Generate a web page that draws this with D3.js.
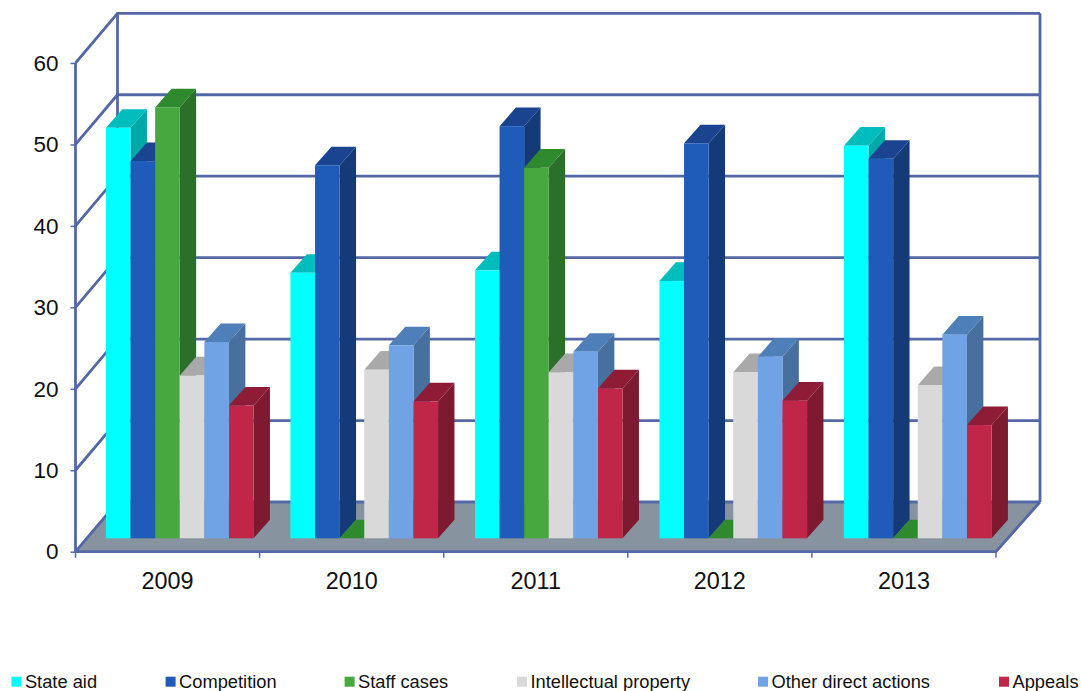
<!DOCTYPE html>
<html><head><meta charset="utf-8">
<script src="https://cdn.jsdelivr.net/npm/d3@7"></script>
<style>html,body{margin:0;background:#fff}svg{display:block}text{font-family:"Liberation Sans",Arial,sans-serif;fill:#111}</style>
</head><body><svg id="c" width="1081" height="691"></svg>
<script>
const years = ["2009","2010","2011","2012","2013"];
const seriesNames = ["State aid","Competition","Staff cases","Intellectual property","Other direct actions","Appeals"];
const stateAid = [50.4,32.6,32.9,31.6,48.2];
const competition = [46.3,45.8,50.6,48.5,46.6];
const staffCases = [52.9,0,45.5,0,0];
const intellectualProperty = [20,20.7,20.4,20.4,18.8];
const otherDirectActions = [24.1,23.7,22.9,22.3,25];
const appeals = [16.3,16.8,18.4,16.9,13.9];
const seriesValues = [stateAid,competition,staffCases,intellectualProperty,otherDirectActions,appeals];
const frontColors = ["#00ffff","#1f5bb8","#46a83f","#d9d9d9","#70a3e6","#bf2648"];
const topColors = ["#00bdbd","#1a4490","#2f8a2e","#a9a9a9","#4f7fb8","#8e1c36"];
const sideColors = ["#00a8a8","#143a78","#2b6f2a","#a0a0a0","#47709f","#7d1a30"];
const yTicks = [0,10,20,30,40,50,60];
const lineColor = "#5468a6", floorColor = "#87949f";

const svg = d3.select("#c");
const x0 = 75.5, x1 = 996, yB = 551.7, yT = 63;
const dxL = 42, dxR = 44, dy = -49.7;
const y = d3.scaleLinear().domain([0,60]).range([yB,yT]);
const xs = d3.scaleBand().domain(years).range([x0,x1]);
const line = d3.line();

// floor
svg.append("path").attr("d",line([[x0,yB],[x1,yB],[x1+dxR,yB+dy],[x0+dxL,yB+dy]])+"Z").attr("fill",floorColor);
// walls
const wall = svg.append("g").attr("fill","none").attr("stroke",lineColor).attr("stroke-width",2.8);
yTicks.forEach(t=>{
  wall.append("path").attr("d",line([[x0,y(t)],[x0+dxL,y(t)+dy],[x1+dxR,y(t)+dy]]));
});
wall.append("path").attr("d",line([[x0,yB],[x0,yT]]));
wall.append("path").attr("d",line([[x0+dxL,yB+dy],[x0+dxL,yT+dy]]));
wall.append("path").attr("d",line([[x1+dxR,yB+dy],[x1+dxR,yT+dy]]));
wall.append("path").attr("d",line([[x0,yB],[x1,yB],[x1+dxR,yB+dy]]));

// y axis & x axis via d3 axes
const yAxis = svg.append("g").attr("transform",`translate(${x0},0)`).call(d3.axisLeft(y).tickValues(yTicks).tickSize(5).tickPadding(12));
yAxis.select(".domain").remove();
yAxis.selectAll("line").attr("stroke",lineColor).attr("stroke-width",1.5);
yAxis.selectAll("text").attr("font-size",22.5).style("font-family",'"Liberation Sans",Arial,sans-serif');
const tickScale = d3.scaleLinear().domain([0,5]).range([x0,x1]);
svg.append("g").selectAll("line").data(d3.range(6)).join("line")
  .attr("x1",d=>tickScale(d)).attr("x2",d=>tickScale(d)).attr("y1",yB).attr("y2",yB+6)
  .attr("stroke",lineColor).attr("stroke-width",1.5);
svg.append("g").selectAll("text").data(years).join("text")
  .attr("x",d=>xs(d)+xs.bandwidth()/2).attr("y",589).attr("text-anchor","middle").attr("font-size",23.4).text(d=>d);

// bars
const barBase = 538.3, barLeft = 87.5, barGroup = 184.5, bx = 16.4, by = -18.6;
const yBar = d3.scaleLinear().domain([0,60]).range([barBase,barBase-(yB-yT)]);
const xBar = d3.scaleBand().domain(years).range([barLeft,barLeft+5*barGroup]);
const band = d3.scaleBand().domain(seriesNames).range([0,barGroup]).paddingInner(0).paddingOuter(0.75);
const bars = svg.append("g");
years.forEach((yr,i)=>{
  seriesNames.forEach((s,k)=>{
    const v = seriesValues[k][i];
    const l = xBar(yr)+band(s), w = band.bandwidth(), r = l+w, t = yBar(v), b = barBase;
    const g = bars.append("g");
    g.append("path").attr("d",line([[r,t],[r+bx,t+by],[r+bx,b+by],[r,b]])+"Z").attr("fill",sideColors[k]);
    g.append("path").attr("d",line([[l,t],[r,t],[r+bx,t+by],[l+bx,t+by]])+"Z").attr("fill",v===0?"#2f8a2e":topColors[k]);
    if(v>0) g.append("rect").attr("x",l).attr("y",t).attr("width",w).attr("height",b-t).attr("fill",frontColors[k]);
  });
});

// legend
const legendX = [11.4,165.6,344.6,517,758,999];
const leg = svg.append("g");
seriesNames.forEach((s,k)=>{
  leg.append("rect").attr("x",legendX[k]).attr("y",676.7).attr("width",10).attr("height",10).attr("fill",frontColors[k]);
  leg.append("text").attr("x",legendX[k]+13.5).attr("y",687.7).attr("font-size",18.3).text(s);
});
</script></body></html>
